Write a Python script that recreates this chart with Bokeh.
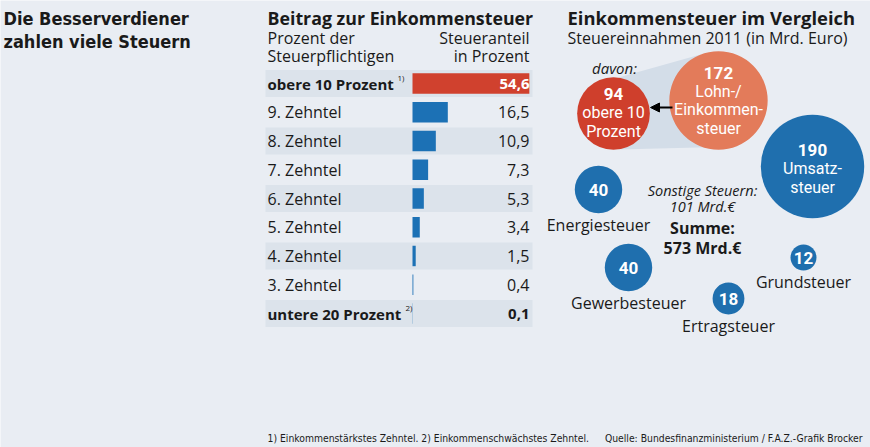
import math
from bokeh.plotting import figure
from bokeh.models import Range1d, Arrow, NormalHead
from bokeh.core.properties import value
from bokeh.embed import file_html
from bokeh.resources import INLINE

# ---------------- data ----------------
title_lines = ["Die Besserverdiener", "zahlen viele Steuern"]
bar_title = "Beitrag zur Einkommensteuer"
bar_sub_left = ["Prozent der", "Steuerpflichtigen"]
bar_sub_right = ["Steueranteil", "in Prozent"]
row_labels = ["obere 10 Prozent", "9. Zehntel", "8. Zehntel", "7. Zehntel", "6. Zehntel",
              "5. Zehntel", "4. Zehntel", "3. Zehntel", "untere 20 Prozent"]
row_notes = ["1)", "", "", "", "", "", "", "", "2)"]
shares = [54.6, 16.5, 10.9, 7.3, 5.3, 3.4, 1.5, 0.4, 0.1]
share_labels = ["54,6", "16,5", "10,9", "7,3", "5,3", "3,4", "1,5", "0,4", "0,1"]

bubble_title = "Einkommensteuer im Vergleich"
bubble_sub = "Steuereinnahmen 2011 (in Mrd. Euro)"
tax_values = [94, 172, 190, 40, 40, 12, 18]
tax_value_labels = ["94", "172", "190", "40", "40", "12", "18"]
tax_inner = [["obere 10", "Prozent"], ["Lohn-/", "Einkommen-", "steuer"], ["Umsatz-", "steuer"],
             [], [], [], []]
tax_outer = ["", "", "", "Energiesteuer", "Gewerbesteuer", "Grundsteuer", "Ertragsteuer"]
davon = "davon:"
other_taxes = ["Sonstige Steuern:", "101 Mrd.€"]
total = ["Summe:", "573 Mrd.€"]
footnote = "1) Einkommenstärkstes Zehntel. 2) Einkommenschwächstes Zehntel."
source = "Quelle: Bundesfinanzministerium / F.A.Z.-Grafik Brocker"

# ---------------- styles / layout ----------------
BG = "#e9edf3"
BAND = "#dce3eb"
FUNNEL = "#d3dde8"
RED = "#d0412e"
BLUE = "#1c71b5"
DARK = "#1a1a1a"
FONT = value("Open Sans")
RFONT = value("Roboto")
NARROW = value("DejaVu Sans Condensed, Liberation Sans Narrow, Roboto Condensed, Roboto")

W, H = 870, 447
ROW0, ROWH = 83.0, 28.75
BAR0, PXU = 412.0, 2.14

p = figure(width=W, height=H, x_range=Range1d(0, W), y_range=Range1d(H, 0),
           output_backend="svg", toolbar_location=None, min_border=0)
p.axis.visible = False
p.grid.visible = False
p.outline_line_color = None
p.background_fill_color = BG
p.border_fill_color = BG

# bar value scale and row scale
p.extra_x_ranges = {"bars": Range1d(start=(0 - BAR0) / PXU, end=(W - BAR0) / PXU)}
p.extra_y_ranges = {"rows": Range1d(start=(H - ROW0) / ROWH, end=(0 - ROW0) / ROWH)}

idx = list(range(len(row_labels)))

# title
p.text(x=[3, 3], y=[18, 41], text=title_lines, text_font=NARROW, text_font_style="bold",
       text_font_size="18px", text_color=DARK, text_baseline="middle")

# ---------- left panel ----------
p.text(x=[267], y=[17], text=[bar_title], text_font=FONT, text_font_style="bold",
       text_font_size="17.8px", text_color=DARK, text_baseline="middle")
p.text(x=[267, 267], y=[37, 55], text=bar_sub_left, text_font=FONT, text_font_size="16px",
       text_color=DARK, text_baseline="middle")
p.text(x=[529, 529], y=[37, 55], text=bar_sub_right, text_font=FONT, text_font_size="16px",
       text_color=DARK, text_baseline="middle", text_align="right")

band_rows = [i for i in idx if i % 2 == 0]
p.hbar(y=band_rows, left=265, right=532, height=27 / ROWH, y_range_name="rows",
       fill_color=BAND, line_color=None)

bar_colors = [RED if i == 0 else BLUE for i in idx]
p.hbar(y=idx, left=0, right=shares, height=0.71, x_range_name="bars", y_range_name="rows",
       fill_color=bar_colors, line_color=None)

bold_rows = [0, len(idx) - 1]
norm_rows = [i for i in idx if i not in bold_rows]
p.text(x=267, y=norm_rows, text=[row_labels[i] for i in norm_rows], y_range_name="rows",
       text_font=FONT, text_font_size="16px", text_color=DARK, text_baseline="middle")
p.text(x=267, y=bold_rows, text=[row_labels[i] for i in bold_rows], y_range_name="rows",
       text_font=FONT, text_font_style="bold", text_font_size="15px", text_color=DARK,
       text_baseline="middle")
note_x = [397, 0, 0, 0, 0, 0, 0, 0, 405]
note_rows = [i for i in idx if row_notes[i]]
p.text(x=[note_x[i] for i in note_rows], y=[i - 0.22 for i in note_rows],
       text=[row_notes[i] for i in note_rows], y_range_name="rows", text_font=FONT,
       text_font_size="8px", text_color=DARK, text_baseline="middle")

p.text(x=529, y=norm_rows, text=[share_labels[i] for i in norm_rows], y_range_name="rows",
       text_font=FONT, text_font_size="16px", text_color=DARK, text_baseline="middle",
       text_align="right")
p.text(x=529, y=[0], text=[share_labels[0]], y_range_name="rows", text_font=FONT,
       text_font_style="bold", text_font_size="15px", text_color="white",
       text_baseline="middle", text_align="right")
p.text(x=529, y=[len(idx) - 1], text=[share_labels[-1]], y_range_name="rows", text_font=FONT,
       text_font_style="bold", text_font_size="15px", text_color=DARK,
       text_baseline="middle", text_align="right")

# ---------- right panel ----------
p.text(x=[567], y=[17], text=[bubble_title], text_font=FONT, text_font_style="bold",
       text_font_size="18.4px", text_color=DARK, text_baseline="middle")
p.text(x=[567], y=[37], text=[bubble_sub], text_font=FONT, text_font_size="16px",
       text_color=DARK, text_baseline="middle")

# funnel between the two income-tax bubbles
p.patch(x=[618, 700, 737, 618], y=[77, 54, 146, 149], fill_color=FUNNEL, line_color=None)

cx = [613, 718, 812, 598, 628, 803, 728]
cy = [113, 100, 166, 189, 267, 257, 298]
txt_dy = [-1, 0, 2, 0, 0, 0, 0]
K = 3.75
radii = [K * math.sqrt(v) for v in tax_values]
colors = ["#cf3f2c", "#e37b5a", "#1f6fae", "#1f6fae", "#1f6fae", "#1f6fae", "#1f6fae"]
p.circle(x=cx, y=cy, radius=radii, fill_color=colors, line_color=None)

LH = 18.5
vx, vy, vt = [], [], []
lx, ly, lt = [], [], []
for i, v in enumerate(tax_value_labels):
    n = 1 + len(tax_inner[i])
    top = cy[i] + txt_dy[i] - LH * (n - 1) / 2
    vx.append(cx[i]); vy.append(top); vt.append(v)
    for j, line in enumerate(tax_inner[i]):
        lx.append(cx[i]); ly.append(top + LH * (j + 1)); lt.append(line)
p.text(x=vx, y=vy, text=vt, text_font=RFONT, text_font_style="bold", text_font_size="17px",
       text_color="white", text_baseline="middle", text_align="center")
p.text(x=lx, y=ly, text=lt, text_font=RFONT, text_font_size="16px",
       text_color="white", text_baseline="middle", text_align="center")

ox = [cx[i] for i in range(len(tax_outer)) if tax_outer[i]]
oy = [cy[i] + radii[i] + 12 for i in range(len(tax_outer)) if tax_outer[i]]
ot = [t for t in tax_outer if t]
p.text(x=ox, y=oy, text=ot, text_font=FONT, text_font_size="16px", text_color=DARK,
       text_baseline="middle", text_align="center")

p.add_layout(Arrow(end=NormalHead(size=9, fill_color="black", line_color="black"),
                   x_start=672, y_start=107, x_end=650, y_end=107, line_width=2,
                   line_color="black"))

p.text(x=[614], y=[67], text=[davon], text_font=FONT, text_font_style="italic",
       text_font_size="15px", text_color=DARK, text_baseline="middle", text_align="center")
p.text(x=[702, 702], y=[190, 206], text=other_taxes, text_font=FONT, text_font_style="italic",
       text_font_size="14.5px", text_color=DARK, text_baseline="middle", text_align="center")
p.text(x=[702, 702], y=[227, 247], text=total, text_font=FONT, text_font_style="bold",
       text_font_size="16px", text_color=DARK, text_baseline="middle", text_align="center")

# footnote
p.text(x=[267], y=[437], text=[footnote], text_font=NARROW, text_font_size="10.3px",
       text_color=DARK, text_baseline="middle")
p.text(x=[862], y=[437], text=[source], text_font=NARROW, text_font_size="10.3px",
       text_color=DARK, text_baseline="middle", text_align="right")

open("out.html", "w").write(file_html(p, INLINE))
